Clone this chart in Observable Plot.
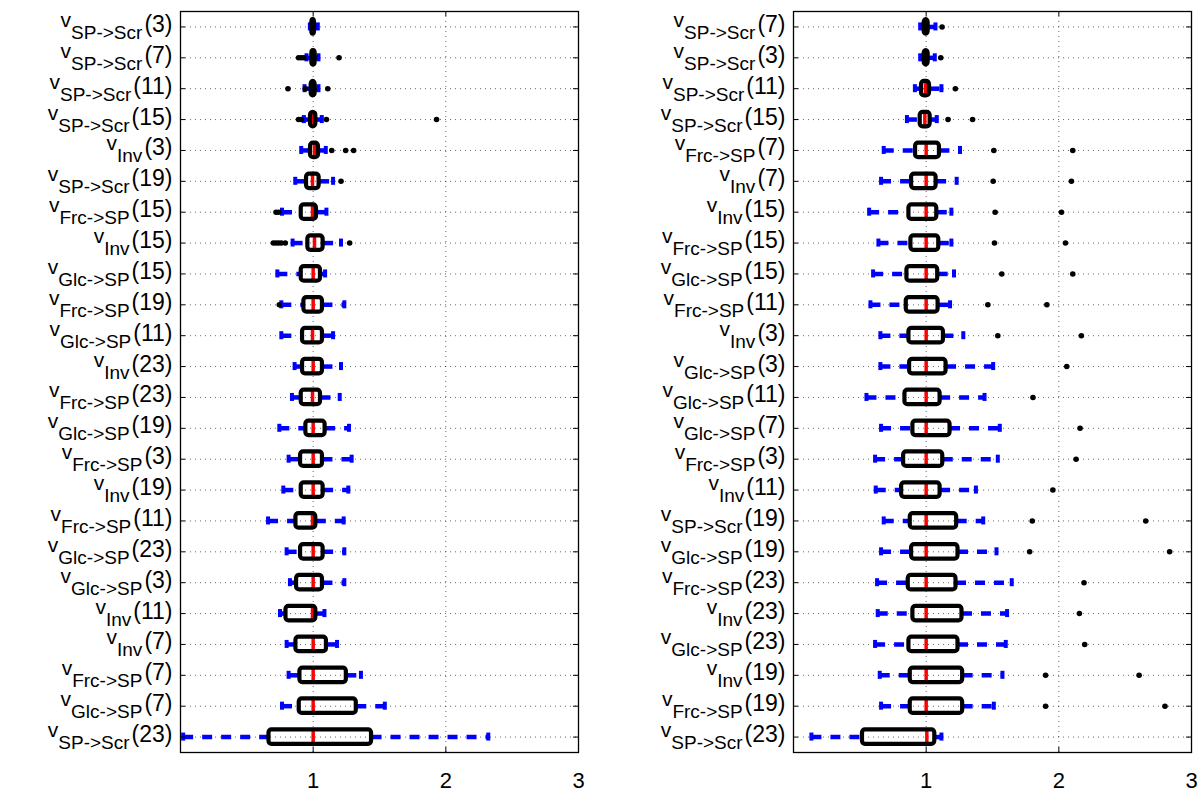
<!DOCTYPE html>
<html><head><meta charset="utf-8">
<script src="https://cdn.jsdelivr.net/npm/d3@7"></script>
<script src="https://cdn.jsdelivr.net/npm/@observablehq/plot@0.6"></script>
<style>
html,body{margin:0;padding:0;background:#fff;}
#wrap{display:flex;width:1200px;height:795px;overflow:hidden;}
#wrap svg{display:block;flex:none;}
</style></head><body><div id="wrap"></div>
<script>
// ---------- LEFT PANEL (top to bottom) ----------
const leftSub = ["SP->Scr","SP->Scr","SP->Scr","SP->Scr","Inv","SP->Scr","Frc->SP","Inv","Glc->SP","Frc->SP","Glc->SP","Inv","Frc->SP","Glc->SP","Frc->SP","Inv","Frc->SP","Glc->SP","Glc->SP","Inv","Inv","Frc->SP","Glc->SP","SP->Scr"];
const leftN   = [3,7,11,15,3,19,15,15,15,19,11,23,23,19,3,19,11,23,3,11,7,7,7,23];
const leftLo  = [0.975,0.95,0.935,0.93,0.91,0.865,0.765,0.845,0.73,0.76,0.76,0.86,0.84,0.745,0.815,0.775,0.66,0.80,0.825,0.75,0.80,0.815,0.765,0.02];
const leftQ1  = [0.99,0.99,0.985,0.98,0.98,0.95,0.91,0.96,0.91,0.93,0.92,0.92,0.91,0.945,0.905,0.91,0.87,0.905,0.875,0.795,0.87,0.90,0.895,0.667];
const leftMed = [1.0,1.0,1.0,1.0,1.01,0.995,0.995,1.01,1.0,1.0,0.995,1.0,0.995,1.0,1.0,1.0,0.995,1.0,1.0,0.995,1.0,1.0,1.0,1.0];
const leftQ3  = [1.01,1.015,1.015,1.02,1.04,1.045,1.025,1.075,1.055,1.07,1.07,1.07,1.055,1.09,1.07,1.075,1.02,1.075,1.07,1.02,1.10,1.25,1.325,1.44];
const leftHi  = [1.035,1.04,1.04,1.065,1.095,1.15,1.10,1.21,1.09,1.235,1.15,1.21,1.20,1.27,1.29,1.265,1.23,1.235,1.235,1.085,1.18,1.36,1.54,2.32];
const leftOut = [[],[0.89,0.91,0.93,1.195],[0.81,0.94,1.11],[0.89,0.91,1.10,1.93],[1.14,1.245,1.305],[1.21],[0.72,0.74],[0.70,0.72,0.74,0.76,0.79,1.275],[],[0.745],[],[],[],[],[],[],[],[],[],[],[],[],[],[]];

// ---------- RIGHT PANEL (top to bottom) ----------
const rightSub = ["SP->Scr","SP->Scr","SP->Scr","SP->Scr","Frc->SP","Inv","Inv","Frc->SP","Glc->SP","Frc->SP","Inv","Glc->SP","Glc->SP","Glc->SP","Frc->SP","Inv","SP->Scr","Glc->SP","Frc->SP","Inv","Glc->SP","Inv","Frc->SP","SP->Scr"];
const rightN   = [7,3,11,15,7,7,15,15,15,11,3,3,11,7,3,11,19,19,23,23,23,19,19,23];
const rightLo  = [0.955,0.955,0.915,0.855,0.68,0.66,0.57,0.64,0.60,0.58,0.655,0.655,0.55,0.66,0.615,0.62,0.68,0.66,0.63,0.635,0.615,0.65,0.66,0.135];
const rightQ1  = [0.985,0.985,0.965,0.955,0.92,0.89,0.87,0.885,0.855,0.85,0.87,0.875,0.84,0.90,0.83,0.815,0.88,0.89,0.865,0.90,0.87,0.88,0.88,0.52];
const rightMed = [1.0,1.0,0.995,0.99,1.0,1.0,1.0,1.0,1.0,1.0,1.0,1.0,1.0,1.0,1.0,1.0,1.0,1.0,1.0,1.0,1.0,1.0,1.0,1.005];
const rightQ3  = [1.015,1.015,1.025,1.03,1.10,1.075,1.08,1.095,1.087,1.09,1.13,1.15,1.105,1.18,1.125,1.105,1.23,1.24,1.225,1.27,1.24,1.275,1.275,1.065];
const rightHi  = [1.07,1.065,1.115,1.08,1.255,1.23,1.19,1.19,1.21,1.18,1.28,1.505,1.44,1.555,1.54,1.375,1.43,1.53,1.645,1.61,1.60,1.575,1.51,1.115];
const rightOut = [[1.12],[1.11],[1.22],[1.165,1.35],[1.51,2.105],[1.505,2.095],[1.52,2.02],[1.515,2.05],[1.57,2.105],[1.465,1.91],[1.54,2.17],[2.06],[1.805],[2.16],[2.13],[1.955],[1.80,2.655],[1.78,2.835],[2.19],[2.155],[2.195],[1.90,2.605],[1.90,2.80],[]];

const xTicks = [1, 2, 3];
const gridTicks = [1, 2];

function panel(sub, n, lo, q1, med, q3, hi, out, mL, mR) {
  const N = sub.length;
  const idx = d3.range(N);
  const rows = idx.map(i => ({i, lo: lo[i], q1: q1[i], med: med[i], q3: q3[i], hi: hi[i]}));
  const pts = idx.flatMap(i => out[i].map(v => ({i, v})));
  const W = 600, H = 795, mT = 11, mB = 43;
  const pw = W - mL - mR, ph = H - mT - mB;
  const bh = 0.235, ch = 0.13;
  const blue = "#0000ff";
  const dotted = {stroke: "#000", strokeOpacity: 0.6, strokeDasharray: "1,4", strokeWidth: 1};
  const svg = Plot.plot({
    width: W, height: H, marginLeft: mL, marginRight: mR, marginTop: mT, marginBottom: mB,
    style: {fontFamily: "'Liberation Sans', Arial, Helvetica, sans-serif", background: "#fff", overflow: "visible", color: "#000"},
    x: {domain: [0, 3], label: null},
    y: {domain: [-0.5, N - 0.5], reverse: true, label: null},
    marks: [
      Plot.gridY(idx, dotted),
      Plot.gridX(gridTicks, dotted),
      Plot.link(rows, {x1: "lo", x2: "q1", y1: "i", y2: "i", stroke: blue, strokeWidth: 4.5, strokeDasharray: "10,9"}),
      Plot.link(rows, {x1: "q3", x2: "hi", y1: "i", y2: "i", stroke: blue, strokeWidth: 4.5, strokeDasharray: "10,9"}),
      Plot.ruleX(rows, {x: "lo", y1: d => d.i - ch, y2: d => d.i + ch, stroke: blue, strokeWidth: 4}),
      Plot.ruleX(rows, {x: "hi", y1: d => d.i - ch, y2: d => d.i + ch, stroke: blue, strokeWidth: 4}),
      Plot.ruleX(rows, {x: "med", y1: d => d.i - bh, y2: d => d.i + bh, stroke: "#ff0000", strokeWidth: 3.5}),
      Plot.rect(rows, {x1: "q1", x2: "q3", y1: d => d.i - bh, y2: d => d.i + bh, stroke: "#000", strokeWidth: 4.2, fill: "none", rx: 3, strokeLinejoin: "round"}),
      Plot.dot(pts, {x: "v", y: "i", r: 2.8, fill: "#000"}),
      Plot.tickY(idx, {y: d => d, insetRight: pw - 5, stroke: "#000"}),
      Plot.tickY(idx, {y: d => d, insetLeft: pw - 5, stroke: "#000"}),
      Plot.tickX(gridTicks, {x: d => d, insetBottom: ph - 5, stroke: "#000"}),
      Plot.tickX(gridTicks, {x: d => d, insetTop: ph - 5, stroke: "#000"}),
      Plot.frame({stroke: "#000", strokeWidth: 1.3}),
      Plot.axisX(xTicks, {tickSize: 0, tickPadding: 20, fontSize: 22, tickFormat: d => String(d)}),
      Plot.axisY(idx, {tickSize: 0, tickPadding: 8, fontSize: 20, tickFormat: i => sub[i] + "|" + n[i]})
    ]
  });
  const NS = "http://www.w3.org/2000/svg";
  svg.querySelectorAll('g[aria-label="y-axis tick label"] text').forEach(t => {
    const [s, k] = t.textContent.split("|");
    t.textContent = "";
    t.removeAttribute("dy");
    t.setAttribute("y", "0");
    const mk = (txt, fs, dy, dx) => {
      const ts = document.createElementNS(NS, "tspan");
      ts.textContent = txt;
      ts.setAttribute("font-size", fs);
      ts.setAttribute("dy", dy);
      if (dx) ts.setAttribute("dx", dx);
      t.appendChild(ts);
    };
    mk("v", 21, 0);
    mk(s, 19, 12);
    mk("(" + k + ")", 23, -7, 2);
  });
  return svg;
}

const wrap = document.getElementById("wrap");
wrap.appendChild(panel(leftSub, leftN, leftLo, leftQ1, leftMed, leftQ3, leftHi, leftOut, 180, 22));
wrap.appendChild(panel(rightSub, rightN, rightLo, rightQ1, rightMed, rightQ3, rightHi, rightOut, 193, 9));
</script>
</body></html>
